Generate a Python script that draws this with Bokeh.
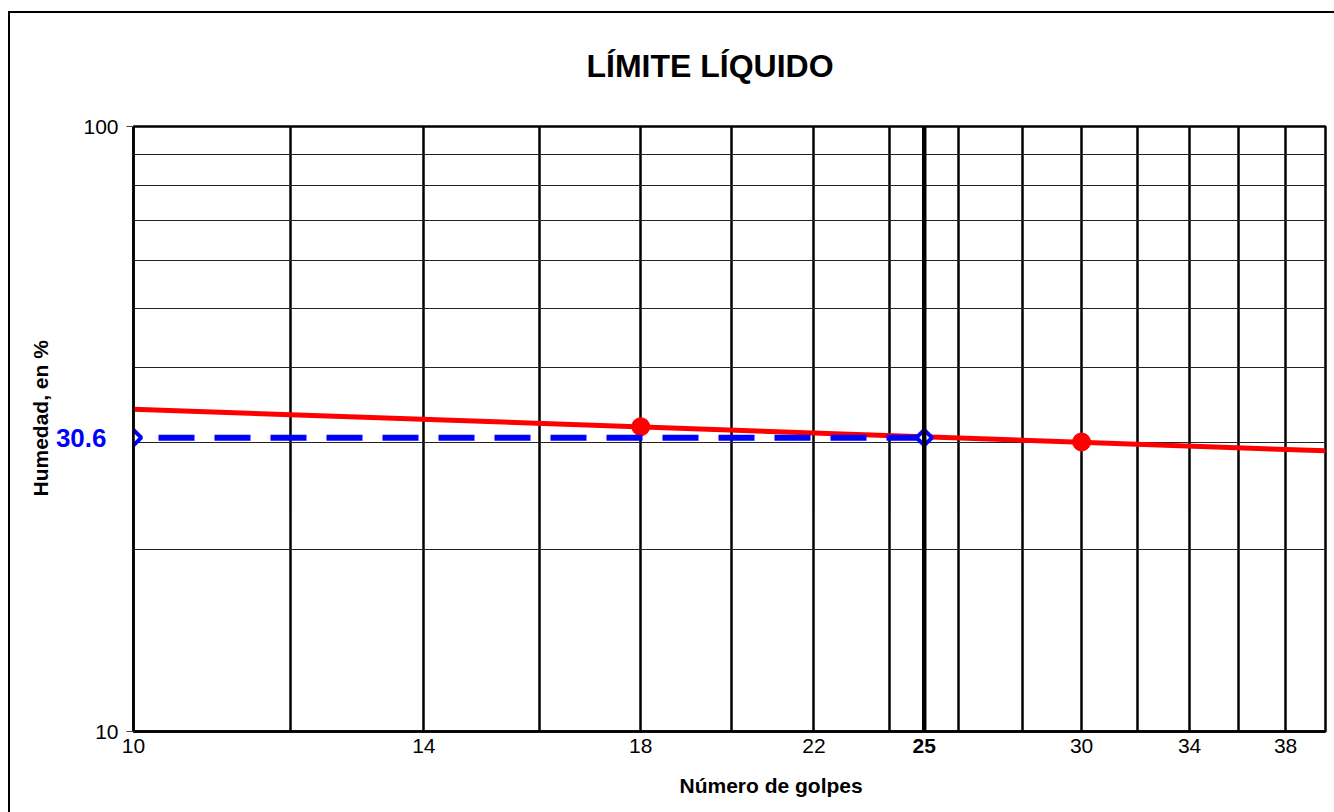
import math
from bokeh.plotting import figure
from bokeh.models import (FixedTicker, CustomJSTickFormatter, Span, Range1d,
                          LogAxis, Title)
from bokeh.embed import file_html
from bokeh.resources import INLINE

# ---- data ----
golpes = [18, 30]                 # number of blows
humedad = [31.9, 30.1]            # moisture content, %
trend_x = [10, 39.8]              # fitted line end points
trend_y = [34.1, 29.1]
ll_x = [10, 25]                   # liquid limit reference line
ll_y = [30.6, 30.6]
x_tick_values = [10, 14, 18, 22, 30, 34, 38]
x_bold_tick = [25]
x_grid_values = [12, 14, 16, 18, 20, 22, 24, 26, 28, 30, 32, 34, 36, 38]
y_tick_values = [10, 100]
y_grid_values = [20, 30, 40, 50, 60, 70, 80, 90]

FONT = "Liberation Sans"

p = figure(width=1334, height=812, x_axis_type="log", y_axis_type="log",
           x_range=Range1d(10, 39.8), y_range=Range1d(10, 100),
           output_backend="svg", toolbar_location=None,
           min_border_left=133, min_border_right=9, min_border_top=126, min_border_bottom=80)
# outer chart-area border (left and top edges; right/bottom fall outside the picture)
p.styles = {"background": "linear-gradient(#000,#000) 8px 11px / 2px calc(100% - 11px) no-repeat, "
                          "linear-gradient(#000,#000) 8px 11px / calc(100% - 8px) 2px no-repeat, #fff"}

p.title.text = "LÍMITE LÍQUIDO"
p.title.align = "left"
p.title.offset = 453
p.title.vertical_align = "top"
p.title.text_font = FONT
p.title.text_font_style = "bold"
p.title.text_font_size = "32px"
p.title.text_color = "black"
p.title.standoff = 82

p.outline_line_color = "black"
p.outline_line_width = 2.5
p.background_fill_color = "white"
p.border_fill_alpha = 0

# grids
p.xgrid.ticker = FixedTicker(ticks=x_grid_values)
p.xgrid.grid_line_color = "black"
p.xgrid.grid_line_width = 2.5
p.ygrid.ticker = FixedTicker(ticks=y_grid_values)
p.ygrid.grid_line_color = "#222222"
p.ygrid.grid_line_width = 1.2

# axes
xa = p.xaxis[0]
xa.ticker = FixedTicker(ticks=x_tick_values)
xa.formatter = CustomJSTickFormatter(code="return tick.toFixed(0);")
xa.major_tick_out = 0
xa.major_tick_in = 0
xa.minor_tick_out = 0
xa.minor_tick_in = 0
xa.axis_line_color = "black"
xa.axis_line_width = 2.5
xa.major_label_text_font = FONT
xa.major_label_text_font_size = "21px"
xa.major_label_text_color = "black"
xa.major_label_standoff = 7

xb = LogAxis(ticker=FixedTicker(ticks=x_bold_tick),
             formatter=CustomJSTickFormatter(code="return tick.toFixed(0);"),
             major_tick_out=0, major_tick_in=0, minor_tick_out=0, minor_tick_in=0,
             axis_line_color=None, major_label_text_font=FONT,
             major_label_text_font_style="bold", major_label_text_font_size="21px",
             major_label_text_color="black", major_label_standoff=-17)
p.add_layout(xb, "below")

ya = p.yaxis[0]
ya.ticker = FixedTicker(ticks=y_tick_values)
ya.formatter = CustomJSTickFormatter(code="return tick.toFixed(0);")
ya.major_tick_out = 7
ya.major_tick_in = 0
ya.minor_tick_out = 0
ya.minor_tick_in = 0
ya.major_tick_line_color = "#444444"
ya.axis_line_color = "black"
ya.axis_line_width = 2.5
ya.major_label_text_font = FONT
ya.major_label_text_font_size = "21px"
ya.major_label_text_color = "black"
ya.major_label_standoff = 8

yb = LogAxis(ticker=FixedTicker(ticks=[ll_y[0]]),
             formatter=CustomJSTickFormatter(code="return tick.toFixed(1);"),
             major_tick_out=0, major_tick_in=0, minor_tick_out=0, minor_tick_in=0,
             axis_line_color=None, major_label_text_font=FONT,
             major_label_text_font_style="bold", major_label_text_font_size="26px",
             major_label_text_color="blue", major_label_standoff=-26)
p.add_layout(yb, "left")

p.add_layout(Title(text="Número de golpes", align="left", offset=546,
                   text_font=FONT, text_font_style="bold", text_font_size="21px",
                   text_color="black", standoff=32), "below")
p.add_layout(Title(text="Humedad, en %", align="left", offset=235,
                   text_font=FONT, text_font_style="bold", text_font_size="21px",
                   text_color="black", standoff=2), "left")

# bold line at 25 blows
p.add_layout(Span(location=25, dimension="height", line_color="black", line_width=4.5))

# data
p.line(trend_x, trend_y, line_color="red", line_width=5)
p.scatter(golpes, humedad, size=18, color="red")
p.line(ll_x, ll_y, line_color="blue", line_width=6, line_dash="36 20", line_dash_offset=31)
p.scatter(ll_x, ll_y, marker="square", angle=math.pi / 4, size=11,
          line_color="blue", line_width=4, fill_color="white")

open("out.html", "w").write(file_html(p, INLINE))
